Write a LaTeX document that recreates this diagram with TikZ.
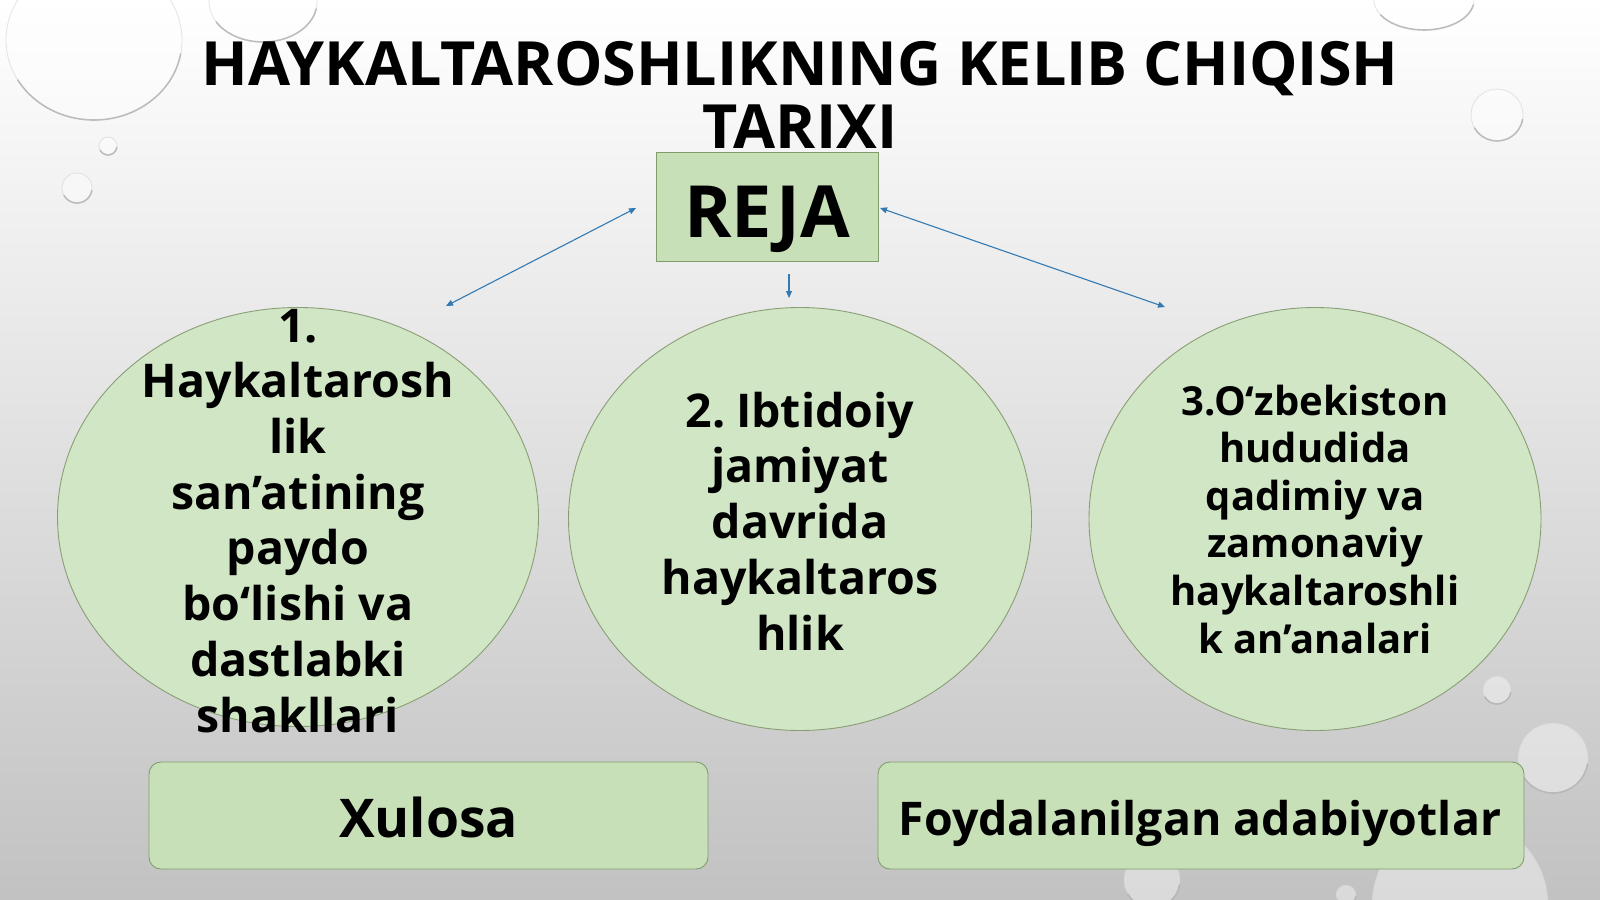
\documentclass[tikz,border=0pt]{standalone}
\usepackage{fontspec}
\setmainfont{Open Sans}
\usetikzlibrary{arrows.meta,shapes.geometric}
\definecolor{bubblefill}{RGB}{208,230,197}
\definecolor{bubbleline}{RGB}{138,158,118}
\definecolor{rejafill}{RGB}{200,224,184}
\definecolor{rejaline}{RGB}{128,158,108}
\definecolor{arrowblue}{RGB}{52,122,178}
\tikzset{
  dropbody/.style={fill=white, fill opacity=0.4, draw=gray!35, draw opacity=0.6, line width=0.8bp},
  droprim/.style={draw=gray!60, draw opacity=0.8, line width=1.6bp, line cap=round},
  bubble/.style={ellipse, draw=bubbleline, fill=bubblefill, line width=0.9bp, inner sep=0},
  bodytext/.style={align=center, inner sep=0, text=black, font=\bfseries\fontsize{46.5bp}{55.7bp}\selectfont},
  smalltext/.style={align=center, inner sep=0, text=black, font=\bfseries\fontsize{40bp}{47.6bp}\selectfont},
  greenbox/.style={draw=rejaline, fill=rejafill, line width=0.9bp, inner sep=0},
  conn/.style={draw=arrowblue, line width=1.1bp, {Triangle[length=7bp,width=6bp]}-{Triangle[length=7bp,width=6bp]}},
  connone/.style={draw=arrowblue, line width=1.1bp, -{Triangle[length=7bp,width=6bp]}}
}
\newcommand\waterdrop[4]{%
  \path[dropbody] (#1,#2) ellipse [x radius=#3, y radius=#4];
  \draw[droprim] (#1,#2) ++(10:#3 and #4) arc[start angle=10, end angle=150, x radius=#3, y radius=#4];
}
\begin{document}
\begin{tikzpicture}[x=1bp,y=-1bp]
\useasboundingbox (0,0) rectangle (1600,899);
\shade[top color=white, middle color=gray!10, bottom color=gray!48] (0,0) rectangle (1600,899);
% water drops
\waterdrop{94}{40}{88}{80}
\waterdrop{263}{2}{54}{40}
\waterdrop{108}{146}{9}{9}
\waterdrop{77}{188}{15}{15}
\waterdrop{1424}{0}{50}{30}
\waterdrop{1497}{115}{26}{26}
\waterdrop{1497}{690}{14}{14}
\waterdrop{1553}{758}{35}{35}
\waterdrop{1460}{905}{88}{88}
\waterdrop{1152}{880}{28}{28}
\waterdrop{1346}{895}{10}{10}
% title
\node[align=center, inner sep=0, anchor=base, font=\bfseries\fontsize{61bp}{63bp}\selectfont] (title) at (800,148)
  {HAYKALTAROSHLIKNING KELIB CHIQISH\\TARIXI};
% reja box
\node[greenbox, minimum width=222bp, minimum height=109bp] (reja) at (767,206.5) {};
\node[anchor=base, inner sep=0, font=\bfseries\fontsize{72bp}{72bp}\selectfont] (rejatext) at (767,237) {REJA};
% ellipses
\node[bubble, minimum width=481bp, minimum height=419bp] (e1) at (298,517) {};
\node[bubble, minimum width=463bp, minimum height=423bp] (e2) at (800,519) {};
\node[bubble, minimum width=452bp, minimum height=423bp] (e3) at (1315,519) {};
\node[bodytext, anchor=base] (t1) at (298,732)
  {1.\\Haykaltarosh\\lik\\san’atining\\paydo\\bo‘lishi va\\dastlabki\\shakllari};
\node[bodytext, anchor=base] (t2) at (800,650)
  {2.\hspace{-0.12em} Ibtidoiy\\jamiyat\\davrida\\haykaltaros\\hlik};
\node[smalltext, anchor=base] (t3) at (1315,653)
  {3.O‘zbekiston\\hududida\\qadimiy va\\zamonaviy\\haykaltaroshli\\k an’analari};
% bottom boxes
\node[greenbox, rounded corners=12bp, minimum width=559bp, minimum height=107bp] (xul) at (428.5,815.5) {};
\node[anchor=base, inner sep=0, font=\bfseries\fontsize{53.4bp}{54bp}\selectfont] (xultext) at (428.5,837) {Xulosa};
\node[greenbox, rounded corners=12bp, minimum width=646bp, minimum height=107bp] (foy) at (1201,815.5) {};
\node[anchor=base, inner sep=0, font=\bfseries\fontsize{46.4bp}{49bp}\selectfont] (foytext) at (1200,835) {Foydalanilgan adabiyotlar};
% connectors
\coordinate (a1s) at (636,208);
\coordinate (a1e) at (446,306);
\coordinate (a2s) at (789,274);
\coordinate (a2e) at (789,298);
\coordinate (a3s) at (880,208);
\coordinate (a3e) at (1165,307);
\draw[conn] (a1s) -- (a1e);
\draw[connone] (a2s) -- (a2e);
\draw[conn] (a3s) -- (a3e);
\end{tikzpicture}
\end{document}
